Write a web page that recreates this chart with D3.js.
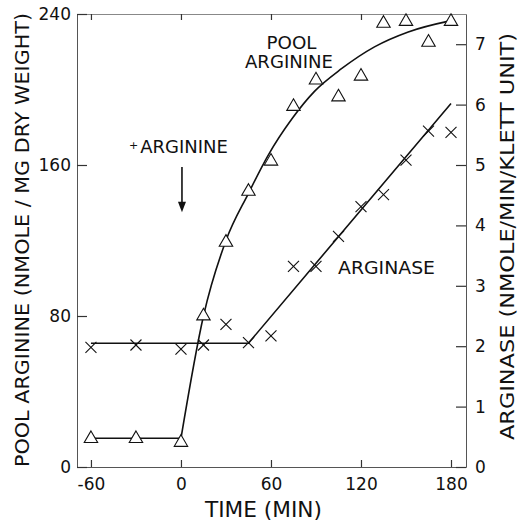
<!DOCTYPE html>
<html>
<head>
<meta charset="utf-8">
<script src="https://cdn.jsdelivr.net/npm/d3@7"></script>
<style>
  body { margin: 0; background: #fff; }
  svg { display: block; font-family: "DejaVu Sans", sans-serif; }
</style>
</head>
<body>
<div id="chart"></div>
<script>
// sampling times (min) and measured values
const times = [-60, -30, 0, 15, 30, 45, 60, 75, 90, 105, 120, 135, 150, 165, 180];
const poolArginine = [15, 15, 13, 80, 119, 146, 162, 191, 205, 196, 207, 235, 236, 225, 236];
const arginase = [1.98, 2.02, 1.95, 2.02, 2.36, 2.06, 2.17, 3.32, 3.32, 3.82, 4.31, 4.51, 5.08, 5.56, 5.54];

// hand-drawn fit lines
const poolFitTimes = [-60, 0, 15, 30, 45, 58, 74, 89, 107, 129, 151.5, 180];
const poolFitValues = [15.2, 15.2, 80, 120, 145, 165, 184.5, 199, 211, 222.6, 230.5, 236.5];
const arginaseFitTimes = [-60, 45, 180];
const arginaseFitValues = [2.05, 2.05, 6.02];

const xTicks = [-60, 0, 60, 120, 180];
const leftTicks = [0, 80, 160, 240];
const rightTicks = [0, 1, 2, 3, 4, 5, 6, 7];

const W = 519, H = 521;
const plot = { left: 77, right: 466, top: 14, bottom: 467 };

const svg = d3.select("#chart").append("svg")
  .attr("width", W)
  .attr("height", H);

const x = d3.scaleLinear().domain([-69.3, 190]).range([plot.left, plot.right]);
const yL = d3.scaleLinear().domain([0, 240]).range([plot.bottom, plot.top]);
const yR = d3.scaleLinear().domain([0, 7.5]).range([plot.bottom, plot.top]);

const ink = "#111";
const frame = "#555";

function styleAxis(g) {
  g.select(".domain").attr("stroke", frame).attr("stroke-width", 1);
  g.selectAll(".tick line").attr("stroke", "#333").attr("stroke-width", 1.2);
  g.selectAll(".tick text").attr("fill", ink).style("font-size", "17px")
    .style("font-family", "'DejaVu Sans', sans-serif");
}

// Axes (ticks point inward like the original)
svg.append("g")
  .attr("transform", `translate(0,${plot.bottom})`)
  .call(d3.axisBottom(x).tickValues(xTicks).tickSize(-7).tickSizeOuter(0)
    .tickPadding(11).tickFormat(d => String(d)))
  .call(styleAxis);

svg.append("g")
  .attr("transform", `translate(0,${plot.top})`)
  .call(d3.axisTop(x).tickValues(xTicks).tickSize(-6).tickSizeOuter(0).tickFormat(""))
  .call(styleAxis)
  .call(g => g.select(".domain").attr("stroke", "#888"));

svg.append("g")
  .attr("transform", `translate(${plot.left},0)`)
  .call(d3.axisLeft(yL).tickValues(leftTicks).tickSize(-10).tickSizeOuter(0)
    .tickPadding(6).tickFormat(d => String(d)))
  .call(styleAxis);

svg.append("g")
  .attr("transform", `translate(${plot.right},0)`)
  .call(d3.axisRight(yR).tickValues(rightTicks).tickSize(-10).tickSizeOuter(0)
    .tickPadding(9).tickFormat(d => String(d)))
  .call(styleAxis);

// Fit lines
const poolFit = poolFitTimes.map((t, i) => ({ t, v: poolFitValues[i] }));
const poolLineFlat = d3.line().x(d => x(d.t)).y(d => yL(d.v));
const poolLineCurve = d3.line().x(d => x(d.t)).y(d => yL(d.v)).curve(d3.curveMonotoneX);

svg.append("path")
  .attr("d", poolLineFlat(poolFit.slice(0, 2)))
  .attr("fill", "none").attr("stroke", ink).attr("stroke-width", 1.6);

svg.append("path")
  .attr("d", poolLineCurve(poolFit.slice(1)))
  .attr("fill", "none").attr("stroke", ink).attr("stroke-width", 1.6);

const argFit = arginaseFitTimes.map((t, i) => ({ t, v: arginaseFitValues[i] }));
svg.append("path")
  .attr("d", d3.line().x(d => x(d.t)).y(d => yR(d.v))(argFit))
  .attr("fill", "none").attr("stroke", ink).attr("stroke-width", 1.6);

// Pool arginine points: open triangles
const tri = d3.symbol().type(d3.symbolTriangle).size(78);
svg.append("g").selectAll("path")
  .data(times.map((t, i) => ({ t, v: poolArginine[i] })))
  .join("path")
  .attr("transform", d => `translate(${x(d.t)},${yL(d.v)})`)
  .attr("d", tri)
  .attr("fill", "#fff")
  .attr("stroke", ink)
  .attr("stroke-width", 1.1);

// Arginase points: crosses
const cr = 5.5;
const crosses = svg.append("g").selectAll("g")
  .data(times.map((t, i) => ({ t, v: arginase[i] })))
  .join("g")
  .attr("transform", d => `translate(${x(d.t)},${yR(d.v)})`);
crosses.append("line").attr("x1", -cr).attr("y1", -cr).attr("x2", cr).attr("y2", cr);
crosses.append("line").attr("x1", -cr).attr("y1", cr).attr("x2", cr).attr("y2", -cr);
crosses.selectAll("line").attr("stroke", ink).attr("stroke-width", 1.1);

// Annotations
const txt = (xp, yp, s, size, len) => {
  const t = svg.append("text")
    .attr("x", xp).attr("y", yp)
    .attr("text-anchor", "middle")
    .attr("fill", ink)
    .style("font-size", size + "px")
    .text(s);
  if (len) t.attr("textLength", len).attr("lengthAdjust", "spacingAndGlyphs");
  return t;
};

txt(291.5, 48.5, "POOL", 18, 50);
txt(289, 67.5, "ARGININE", 18, 88);
txt(386.5, 274, "ARGINASE", 18, 97);

const plus = svg.append("text")
  .attr("x", 129).attr("y", 152.5)
  .attr("fill", ink)
  .style("font-size", "18px");
plus.append("tspan").style("font-size", "11px").attr("dy", -4).text("+");
plus.append("tspan").attr("dy", 4).attr("dx", 2).text("ARGININE");

// arrow at the time arginine was added
const ax = x(0) + 1;
svg.append("line")
  .attr("x1", ax).attr("x2", ax)
  .attr("y1", yL(159)).attr("y2", yL(140))
  .attr("stroke", ink).attr("stroke-width", 1.6);
svg.append("path")
  .attr("d", `M${ax - 4},${yL(140.5)} L${ax + 4},${yL(140.5)} L${ax},${yL(135)} Z`)
  .attr("fill", ink);

// Axis titles
svg.append("text")
  .attr("transform", "translate(29,240) rotate(-90)")
  .attr("text-anchor", "middle")
  .attr("fill", ink)
  .style("font-size", "19px")
  .attr("textLength", 454)
  .attr("lengthAdjust", "spacingAndGlyphs")
  .text("POOL ARGININE (NMOLE / MG DRY WEIGHT)");

svg.append("text")
  .attr("transform", "translate(514,236.5) rotate(-90)")
  .attr("text-anchor", "middle")
  .attr("fill", ink)
  .style("font-size", "19px")
  .attr("textLength", 407)
  .attr("lengthAdjust", "spacingAndGlyphs")
  .text("ARGINASE (NMOLE/MIN/KLETT UNIT)");

svg.append("text")
  .attr("x", 263.5).attr("y", 517)
  .attr("text-anchor", "middle")
  .attr("fill", ink)
  .style("font-size", "21px")
  .attr("textLength", 117)
  .attr("lengthAdjust", "spacingAndGlyphs")
  .text("TIME (MIN)");
</script>
</body>
</html>
